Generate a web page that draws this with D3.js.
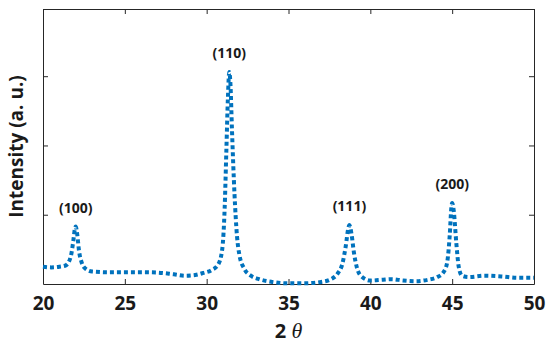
<!DOCTYPE html>
<html lang="en">
<head>
<meta charset="utf-8">
<title>XRD pattern</title>
<style>
  html, body { margin: 0; padding: 0; background: #fff; }
  text { font-family: "Open Sans", sans-serif; }
  .axis path, .axis line { stroke: #262626; stroke-width: 1px; }
  .axis text { font-size: 19px; font-weight: bold; fill: #1a1a1a; }
</style>
</head>
<body>
<div id="chart"></div>
<script src="https://d3js.org/d3.v7.min.js"></script>
<script>
// 2 theta positions (degrees)
var twoTheta = [20.0, 20.5, 21.0, 21.4, 21.7, 21.85, 21.95, 22.0, 22.1, 22.2, 22.35, 22.6,
  23.0, 24.0, 25.0, 26.0, 27.0, 28.0, 28.7, 29.3, 29.8, 30.3, 30.7, 30.95,
  31.1, 31.2, 31.3, 31.38, 31.45, 31.55, 31.7, 31.85, 32.0, 32.3, 32.7, 33.2,
  34.0, 35.0, 36.0, 37.0, 37.6, 38.0, 38.3, 38.5, 38.65, 38.72, 38.85, 39.0,
  39.2, 39.5, 40.0, 40.7, 41.3, 42.0, 42.8, 43.5, 44.1, 44.5, 44.7, 44.85,
  44.95, 45.0, 45.1, 45.25, 45.4, 45.6, 46.0, 47.0, 48.0, 49.0, 50.0];
// intensity (a. u.)
var intensity = [0.25, 0.24, 0.25, 0.27, 0.40, 0.62, 0.80, 0.83, 0.70, 0.48, 0.32, 0.22,
  0.18, 0.17, 0.17, 0.17, 0.165, 0.14, 0.12, 0.13, 0.16, 0.20, 0.28, 0.50,
  1.1, 1.9, 2.7, 3.06, 2.9, 2.2, 1.3, 0.70, 0.42, 0.22, 0.12, 0.07,
  0.03, 0.01, 0.01, 0.03, 0.07, 0.15, 0.30, 0.55, 0.80, 0.85, 0.72, 0.45,
  0.22, 0.10, 0.05, 0.06, 0.07, 0.05, 0.04, 0.06, 0.10, 0.18, 0.32, 0.70,
  1.1, 1.17, 1.05, 0.6, 0.25, 0.12, 0.10, 0.12, 0.11, 0.09, 0.09];
// peak labels (Miller indices)
var peakNames = ["(100)", "(110)", "(111)", "(200)"];
var peakPos = [22.0, 31.38, 38.72, 45.0];
var peakVal = [0.83, 3.06, 0.85, 1.17];

var xTicks = [20, 25, 30, 35, 40, 45, 50];
var yTicks = [1, 2, 3];

var width = 550, height = 348;
var margin = {top: 9, right: 16, bottom: 64, left: 43};
var w = width - margin.left - margin.right;
var h = height - margin.top - margin.bottom;

var svg = d3.select("#chart").append("svg")
  .attr("width", width)
  .attr("height", height);

var g = svg.append("g")
  .attr("transform", "translate(" + margin.left + "," + margin.top + ")");

var x = d3.scaleLinear().domain([20, 50]).range([0, w]);
var y = d3.scaleLinear().domain([0, 3.97]).range([h, 0]);

// box axes, ticks pointing inwards
g.append("g").attr("class", "axis")
  .attr("transform", "translate(0," + h + ")")
  .call(d3.axisBottom(x).tickValues(xTicks).tickSizeInner(-5).tickSizeOuter(0).tickPadding(13));
g.append("g").attr("class", "axis")
  .call(d3.axisTop(x).tickValues(xTicks).tickSizeInner(-5).tickSizeOuter(0).tickFormat(""));
g.append("g").attr("class", "axis")
  .call(d3.axisLeft(y).tickValues(yTicks).tickSizeInner(-5).tickSizeOuter(0).tickFormat(""));
g.append("g").attr("class", "axis")
  .attr("transform", "translate(" + w + ",0)")
  .call(d3.axisRight(y).tickValues(yTicks).tickSizeInner(-5).tickSizeOuter(0).tickFormat(""));

var pts = twoTheta.map(function (d, i) { return [d, intensity[i]]; });

var line = d3.line()
  .x(function (d) { return x(d[0]); })
  .y(function (d) { return y(d[1]); })
  .curve(d3.curveMonotoneX);

g.append("path")
  .datum(pts)
  .attr("fill", "none")
  .attr("stroke", "#0072BD")
  .attr("stroke-width", 4)
  .attr("stroke-dasharray", "4,3")
  .attr("d", line);

g.selectAll(".peak")
  .data(peakNames)
  .enter()
  .append("text")
  .attr("class", "peak")
  .attr("text-anchor", "middle")
  .attr("x", function (d, i) { return x(peakPos[i]); })
  .attr("y", function (d, i) { return y(peakVal[i]) - 14; })
  .style("font-size", "14px")
  .style("font-weight", "bold")
  .style("fill", "#1a1a1a")
  .text(function (d) { return d; });

// axis titles
var xl = svg.append("text")
  .attr("x", margin.left + w / 2)
  .attr("y", 338)
  .attr("text-anchor", "middle")
  .style("font-size", "20px")
  .style("font-weight", "bold")
  .style("fill", "#1a1a1a");
xl.append("tspan").text("2 ");
xl.append("tspan")
  .style("font-family", "'Liberation Serif', serif")
  .style("font-style", "italic")
  .style("font-weight", "normal")
  .style("font-size", "22px")
  .text("θ");

svg.append("text")
  .attr("transform", "translate(23," + (margin.top + h / 2) + ") rotate(-90)")
  .attr("text-anchor", "middle")
  .style("font-size", "19px")
  .style("font-weight", "bold")
  .style("fill", "#1a1a1a")
  .text("Intensity (a. u.)");
</script>
</body>
</html>
